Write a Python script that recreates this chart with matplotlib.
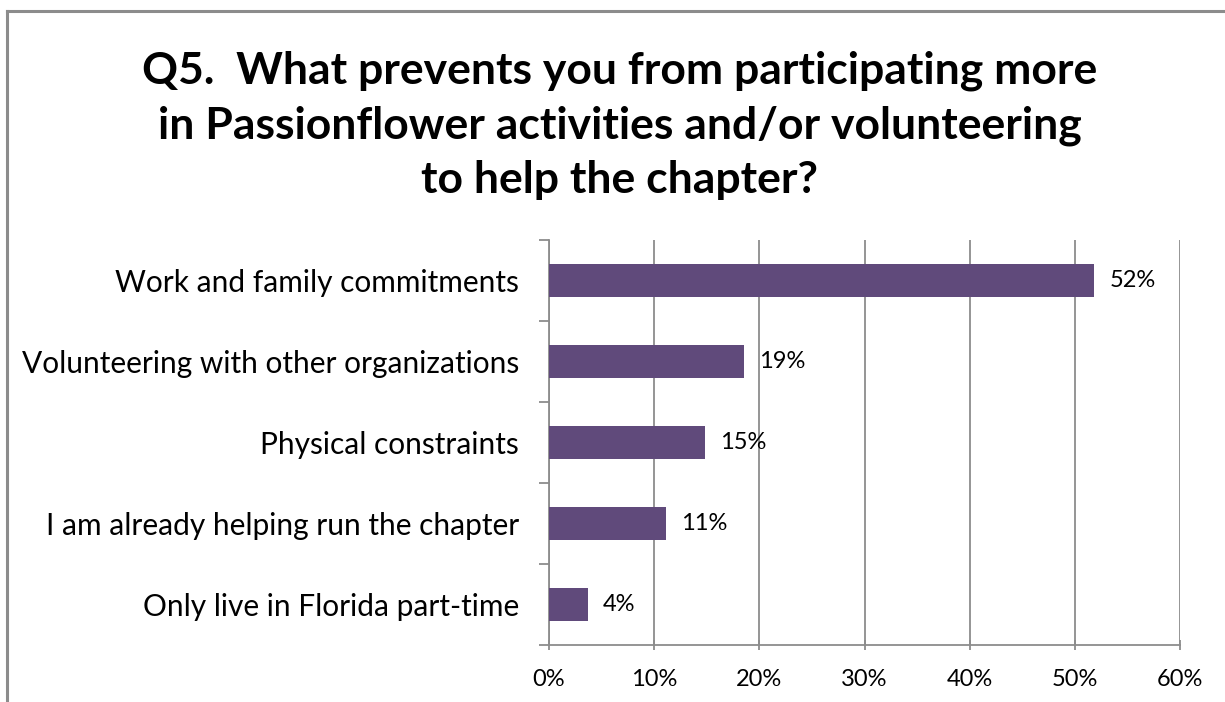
import matplotlib
matplotlib.use("Agg")
import matplotlib.pyplot as plt
from matplotlib.lines import Line2D
from matplotlib.ticker import FixedLocator, NullFormatter

plt.rcParams['font.family'] = ['Lato', 'DejaVu Sans']

title = "Q5.  What prevents you from participating more\nin Passionflower activities and/or volunteering\nto help the chapter?"
categories = [
    "Work and family commitments",
    "Volunteering with other organizations",
    "Physical constraints",
    "I am already helping run the chapter",
    "Only live in Florida part-time",
]
values = [0.5185, 0.1852, 0.1481, 0.1111, 0.037]
labels = ["52%", "19%", "15%", "11%", "4%"]
xticks = [0, 0.1, 0.2, 0.3, 0.4, 0.5, 0.6]
xticklabels = ["0%", "10%", "20%", "30%", "40%", "50%", "60%"]

bar_color = "#604A7B"
grid_color = "#8C8C8C"

fig = plt.figure(figsize=(12.25, 7.02), dpi=100)
ax = fig.add_axes([549/1225, 1-645/702, (1180-549)/1225, (645-240)/702])

n = len(categories)
ypos = list(range(n))
ax.barh(ypos, values, height=0.4, color=bar_color, zorder=3)
ax.set_ylim(n - 0.5, -0.5)
ax.set_xlim(0, 0.6)

ax.set_xticks(xticks)
ax.set_xticklabels(xticklabels, fontsize=17)
ax.set_yticks(ypos)
ax.set_yticklabels(categories, fontsize=21.5)
ax.tick_params(axis='y', length=0, pad=21.5)
ax.yaxis.set_minor_locator(FixedLocator([i - 0.5 for i in range(n + 1)]))
ax.yaxis.set_minor_formatter(NullFormatter())
ax.tick_params(axis='y', which='minor', length=7, width=1.3, color=grid_color, direction='out')
ax.tick_params(axis='x', length=7, width=1.3, color=grid_color, direction='inout', pad=14)

ax.grid(axis='x', color=grid_color, linewidth=1.3, zorder=0)
for s in ['top', 'right']:
    ax.spines[s].set_visible(False)
for s in ['left', 'bottom']:
    ax.spines[s].set_color(grid_color)
    ax.spines[s].set_linewidth(1.3)

for y, v, lab in zip(ypos, values, labels):
    ax.annotate(lab, (v, y), xytext=(11, 0), textcoords='offset points',
                va='center', ha='left', fontsize=17)

fig.text(0.506, 1 - 125/702, title, ha='center', va='center', fontsize=32,
         fontweight='bold', linespacing=1.43)

# chart border (top and left visible)
fig.add_artist(Line2D([7/1225, 7/1225], [0, 1 - 11/702], transform=fig.transFigure,
                      color='#8C8C8C', linewidth=2.2))
fig.add_artist(Line2D([7/1225, 1], [1 - 11/702, 1 - 11/702], transform=fig.transFigure,
                      color='#8C8C8C', linewidth=2.2))

fig.savefig("out.png", dpi=100, facecolor='white')
